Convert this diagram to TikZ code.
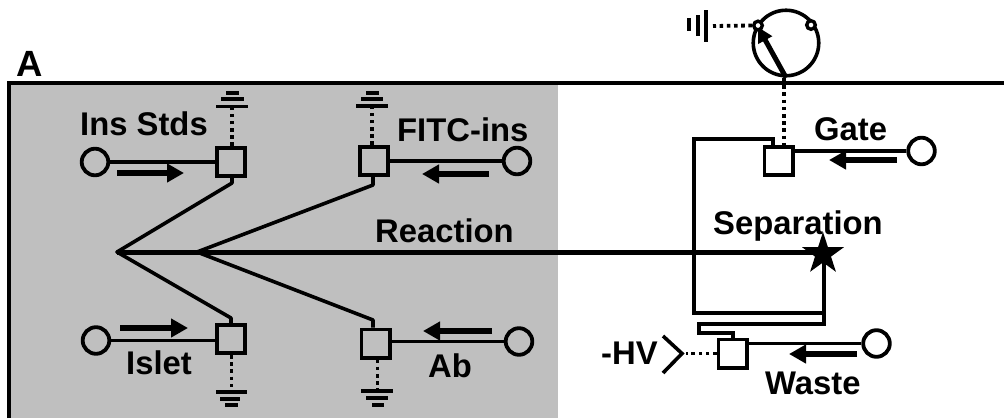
\documentclass[tikz,border=0pt]{standalone}
\usepackage{fontspec}
\setmainfont{Liberation Sans}
\usetikzlibrary{arrows.meta,shapes.geometric}
\tikzset{
  lab/.style={anchor=base west,inner sep=0pt,font=\fontsize{32.8}{36}\selectfont\bfseries},
  valve/.style={draw=black,line width=3.8pt,minimum size=28.2pt,inner sep=0pt,rectangle},
  res/.style={draw=black,line width=3.8pt,minimum size=26.6pt,inner sep=0pt,circle},
  pipe/.style={line width=3.6pt,draw=black,line join=miter},
  dots/.style={line width=3.8pt,draw=black,dash pattern=on 3.6pt off 3.6pt},
  flow/.style={line width=6pt,draw=black,-{Triangle[length=17pt,width=18pt]}},
  gbar/.style={line width=3.8pt,draw=black},
  gtip/.style={line width=4pt,draw=black},
  pin/.style={draw=black,fill=white,circle,line width=3.4pt,minimum size=8.6pt,inner sep=0pt}
}
\begin{document}
\begin{tikzpicture}[x=1pt,y=-1pt]
\useasboundingbox (0,0) rectangle (1004,418);
\fill[white] (0,0) rectangle (1004,418);
\fill[black!25] (10,83) rectangle (558,418);
\coordinate (topL) at (9,83);
\coordinate (topR) at (1004,83);
\coordinate (botL) at (9,418);
\draw[line width=4pt,line join=miter] (botL) -- (topL) -- (topR);
\node[lab,font=\fontsize{36.5}{40}\selectfont\bfseries] (tA) at (16,76) {A};
% labels
\node[lab] (t1) at (80,135) {Ins Stds};
\node[lab] (t2) at (397,141) {FITC-ins};
\node[lab] (t3) at (375,242) {Reaction};
\node[lab] (t4) at (126,374) {Islet};
\node[lab] (t5) at (428,377) {Ab};
\node[lab] (t6) at (814,140) {Gate};
\node[lab] (t7) at (713,234) {Separation};
\node[lab] (t8) at (765,394) {Waste};
\node[lab] (t9) at (601,364) {-HV};
% valves and reservoirs
\node[valve] (vIns) at (231,162) {};
\node[valve] (vFit) at (374,161) {};
\node[valve] (vIsl) at (231,339) {};
\node[valve] (vAb) at (375.5,343.5) {};
\node[valve] (vGate) at (778.5,161) {};
\node[valve] (vWaste) at (732.5,353.5) {};
\node[res] (rIns) at (95,162) {};
\node[res] (rFit) at (517,161) {};
\node[res] (rIsl) at (96,340.5) {};
\node[res] (rAb) at (519,341.5) {};
\node[res] (rGate) at (921.5,151) {};
\node[res] (rWaste) at (876.5,343.5) {};
% reservoir lines
\draw[pipe] (rIns.east) -- (rIns.east -| vIns.west);
\draw[pipe] (rFit.west) -- (rFit.west -| vFit.east);
\draw[pipe] (rIsl.east) -- (rIsl.east -| vIsl.west);
\draw[pipe] (rAb.west) -- (rAb.west -| vAb.east);
\draw[pipe] (rGate.west) -- (rGate.west -| vGate.east);
\draw[pipe] (rWaste.west) -- (rWaste.west -| vWaste.east);
% flow arrows
\coordinate (a1s) at (117,173); \coordinate (a1e) at (184,173);
\coordinate (a2s) at (489,174); \coordinate (a2e) at (422,174);
\coordinate (a3s) at (120,328); \coordinate (a3e) at (188,328);
\coordinate (a4s) at (492,331); \coordinate (a4e) at (423,331);
\coordinate (a5s) at (897,160); \coordinate (a5e) at (829,160);
\coordinate (a6s) at (857,354); \coordinate (a6e) at (789,354);
\draw[flow] (a1s) -- (a1e);
\draw[flow] (a2s) -- (a2e);
\draw[flow] (a3s) -- (a3e);
\draw[flow] (a4s) -- (a4e);
\draw[flow] (a5s) -- (a5e);
\draw[flow] (a6s) -- (a6e);
% mixing tees
\coordinate (apex1) at (117,252);
\coordinate (apex2) at (197,252);
\coordinate (k1) at (232,183);
\coordinate (k2) at (231,318);
\coordinate (k3) at (373,185);
\coordinate (k4) at (373,320);
\draw[pipe,line join=round] (vIns.south -| k1) -- (k1) -- (apex1) -- (k2) -- (vIsl.north -| k2);
\draw[pipe,line join=round] (vFit.south -| k3) -- (k3) -- (apex2) -- (k4) -- (vAb.north -| k4);
% grounds
\coordinate (g1) at (232,107);
\draw[dots] (vIns.north -| g1) -- (g1);
\draw[gbar] (216,106.5) -- (248,106.5) (221,99) -- (244,99);
\draw[gtip] (226,93) -- (239,93);
\coordinate (g2) at (372,107);
\draw[dots] (vFit.north -| g2) -- (g2);
\draw[gbar] (356,106) -- (388,106) (361,99) -- (383,99);
\draw[gtip] (366,93) -- (379,93);
\coordinate (g3) at (231.5,392);
\draw[dots] (vIsl.south -| g3) -- (g3);
\draw[gbar] (216,392) -- (247,392) (220,399) -- (240,399);
\draw[gtip] (225,405) -- (238,405);
\coordinate (g4) at (377.5,391);
\draw[dots] (vAb.south -| g4) -- (g4);
\draw[gbar] (361,391) -- (393,391) (366,398) -- (388,398);
\draw[gtip] (372,405) -- (384,405);
% rotary switch
\node[draw=black,circle,line width=3.6pt,minimum size=65.5pt,inner sep=0pt] (sw) at (786,43) {};
\coordinate (swt) at (758,27);
\draw[line width=5pt,-{Triangle[length=15pt,width=15pt]}] (sw.south) -- (swt);
\node[pin] (p1) at (758,25.5) {};
\node[pin] (p2) at (811,25) {};
\coordinate (g5) at (713,26);
\draw[dots] (p1.west) -- (g5);
\draw[gbar] (706,10) -- (706,42) (698,15) -- (698,36);
\draw[gtip] (689,18) -- (689,31);
\coordinate (sd) at (784,78);
\draw[dots] (sd) -- (sd |- vGate.north);
% capillary
\coordinate (c1) at (773,146); \coordinate (c2) at (773,139);
\coordinate (c3) at (694,139); \coordinate (c4) at (694,313);
\coordinate (c5) at (824,313); \coordinate (c6) at (824,324);
\coordinate (c7) at (699,324); \coordinate (c8) at (699,333);
\coordinate (c9) at (733,333);
\coordinate (c10) at (824,252);
\draw[pipe] (c1) -- (c2) -- (c3) -- (c4) -- (c5);
\draw[pipe] (c9 |- vWaste.north) -- (c9) -- (c8) -- (c7) -- (c6) -- (c10);
% reaction line and star
\node[star,star points=5,star point ratio=2.618,fill=black,minimum size=44pt,inner sep=0pt] (st) at (823,254) {};
\draw[line width=5pt] (apex1) -- (apex1 -| st.center);
% HV
\coordinate (h1) at (663,336); \coordinate (h2) at (682,353.5); \coordinate (h3) at (663,373);
\coordinate (h4) at (686,353.5);
\draw[line width=3.6pt,line join=miter] (h1) -- (h2) -- (h3);
\draw[dots] (vWaste.west) -- (h4);
\end{tikzpicture}
\end{document}
